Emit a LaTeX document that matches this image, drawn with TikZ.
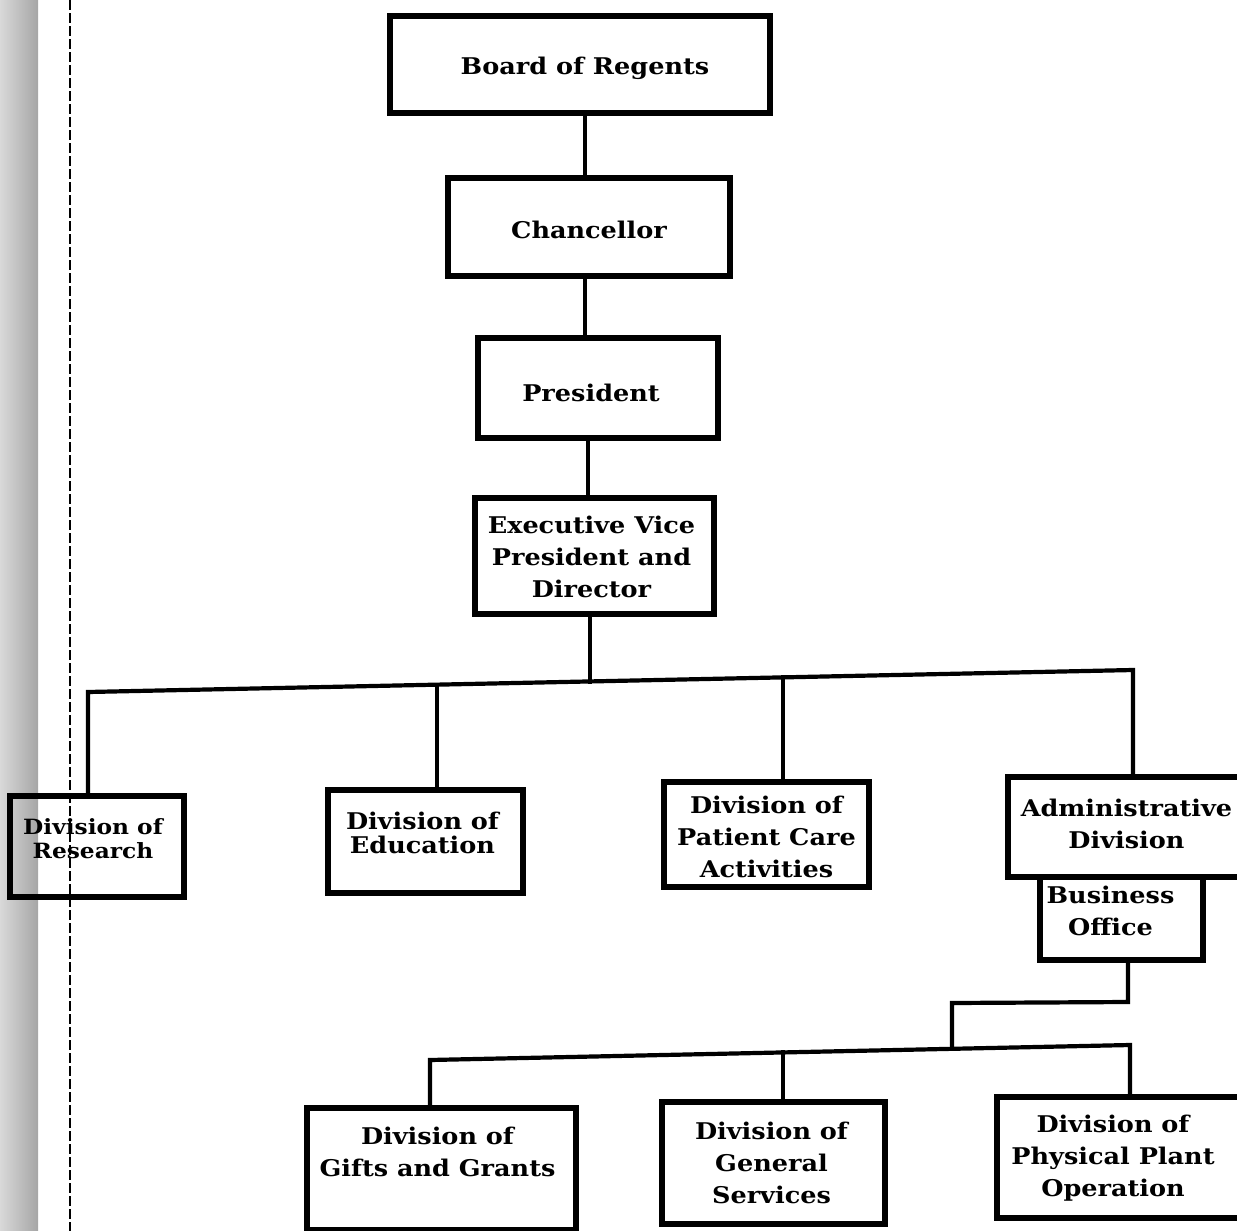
\documentclass[tikz,border=0pt]{standalone}
\usepackage{fontspec}
\setmainfont{DejaVu Serif}[FakeStretch=1.11]
\usetikzlibrary{calc}
% \tx{dx}{dy}{lines}: text block shifted by dx (right) and dy (up) inside its box
\newcommand\tx[3]{\hspace*{#1}\raisebox{#2}[\height][\depth]{\begin{tabular}{@{}c@{}}#3\end{tabular}}\hspace*{-#1}}
\tikzset{
  orgbox/.style 2 args={draw, line width=2.6pt, inner sep=0pt, outer sep=0pt,
    minimum width=#1, minimum height=#2,
    font=\fontsize{11.5pt}{16pt}\selectfont\bfseries},
  tight/.style={font=\fontsize{11.5pt}{12pt}\selectfont\bfseries},
  tightsmall/.style={font=\fontsize{10.5pt}{12pt}\selectfont\bfseries},
  link/.style={line width=2.1pt, line cap=rect, line join=miter},
}
\begin{document}
\begin{tikzpicture}[x=0.5pt, y=-0.5pt]
\useasboundingbox (0,0) rectangle (1237,1231);
% scan edge and fold line
\shade[left color=gray!30, right color=gray!70] (0,0) rectangle (38,1231);
\draw[line width=0.7pt, dash pattern=on 5pt off 1.5pt] (70,0) -- (70,1231);

% boxes
\node[orgbox={190pt}{48.5pt}] (board) at (580,64.5) {\tx{2.5pt}{-2pt}{Board of Regents}};
\node[orgbox={141pt}{49pt}] (chan) at (589,227) {\tx{0pt}{-2.5pt}{Chancellor}};
\node[orgbox={120pt}{50pt}] (pres) at (598,388) {\tx{-3.5pt}{-3.5pt}{President}};
\node[orgbox={119.5pt}{58pt}] (exec) at (594.5,556) {\tx{-1.5pt}{-1.5pt}{Executive Vice\\President and\\Director}};

\node[orgbox={87pt}{50.5pt}, tightsmall] (research) at (97,846.5) {\tx{-2pt}{2.5pt}{Division of\\Research}};
\node[orgbox={97.5pt}{51.5pt}, tight] (edu) at (425.5,841.5) {\tx{-1.5pt}{2.5pt}{Division of\\Education}};
\node[orgbox={102.5pt}{52.5pt}] (patient) at (766.5,834.5) {\tx{0pt}{-2.5pt}{Division of\\Patient Care\\Activities}};
\node[orgbox={118.5pt}{50pt}] (admin) at (1126.5,827) {\tx{0pt}{0.5pt}{Administrative\\Division}};
\node[orgbox={81.5pt}{41.5pt}, anchor=north] (business) at (1121.5,877) {\tx{-5.5pt}{2.5pt}{Business\\Office}};

\node[orgbox={134.5pt}{61pt}] (gifts) at (441.5,1169) {\tx{-2pt}{7.5pt}{Division of\\Gifts and Grants}};
\node[orgbox={111.5pt}{61pt}] (general) at (773.5,1163) {\tx{-1pt}{-1pt}{Division of\\General\\Services}};
\node[orgbox={124pt}{60.5pt}] (physical) at (1121,1157.5) {\tx{-4pt}{-0.5pt}{Division of\\Physical Plant\\Operation}};

% upper chain
\draw[link] (board.south -| chan.north) ++(-4,0) -- ($(chan.north)+(-4,0)$);
\draw[link] ($(chan.south)+(-4,0)$) -- ($(pres.north)+(-13,0)$);
\draw[link] ($(pres.south)+(-10,0)$) -- ($(exec.north)+(-6.5,0)$);

% first level bar
\coordinate (bL) at (88,692);
\coordinate (bR) at (1133,670);
\coordinate (bE) at (590,681.4);
\coordinate (b2) at (437,684.7);
\coordinate (b3) at (783,677.4);
\draw[link] (exec.south -| bE) -- (bE);
\draw[link] (research.north -| bL) -- (bL) -- (bR) -- (admin.north -| bR);
\draw[link] (b2) -- (edu.north -| b2);
\draw[link] (b3) -- (patient.north -| b3);

% business office branch
\coordinate (c1) at (1128,1002);
\coordinate (c2) at (952,1003);
\coordinate (cL) at (430,1060);
\coordinate (cR) at (1130,1045);
\coordinate (cJ) at (952,1048.8);
\coordinate (cG) at (783,1052.4);
\draw[link] (business.south -| c1) -- (c1) -- (c2) -- (cJ);
\draw[link] (gifts.north -| cL) -- (cL) -- (cR) -- (physical.north -| cR);
\draw[link] (cG) -- (general.north -| cG);
\end{tikzpicture}
\end{document}
